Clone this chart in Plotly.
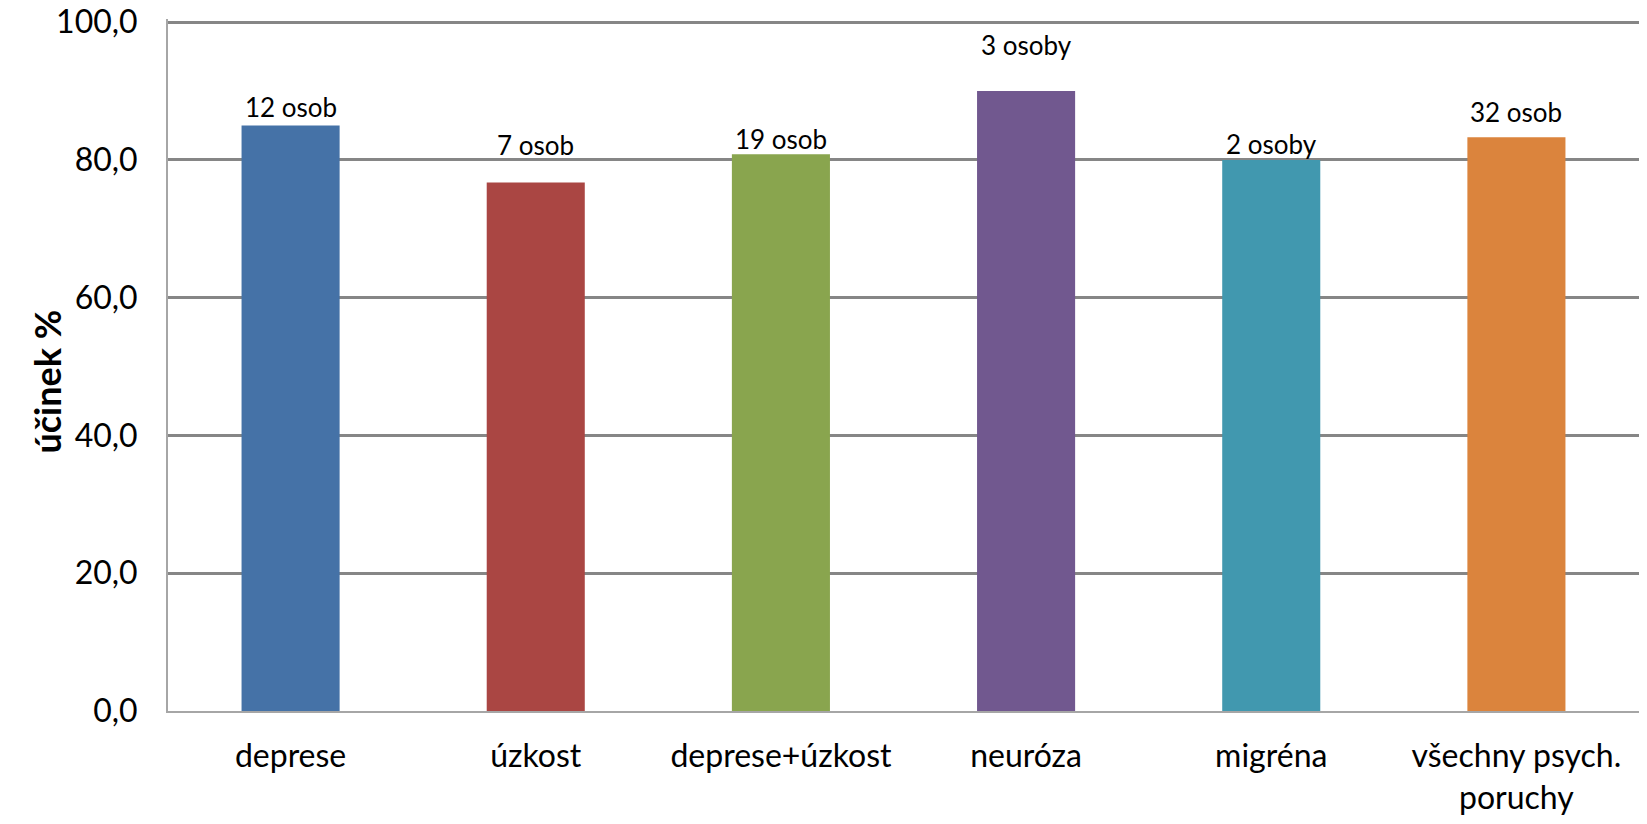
import plotly.graph_objects as go

categories = ["deprese", "úzkost", "deprese+úzkost", "neuróza", "migréna", "všechny psych.<br>poruchy"]
values = [85.0, 76.7, 80.8, 90.0, 80.0, 83.3]
labels = ["12 osob", "7 osob", "19 osob", "3 osoby", "2 osoby", "32 osob"]
colors = ["#4572A7", "#AA4643", "#89A54E", "#71588F", "#4198AF", "#DB843D"]
label_shift = [18, 38, 15, 46, 16, 25]
y_ticks = [0, 20, 40, 60, 80, 100]
y_ticktext = ["0,0", "20,0", "40,0", "60,0", "80,0", "100,0"]

FONT = "Lato"

fig = go.Figure()
fig.add_trace(go.Bar(x=categories, y=values, marker=dict(color=colors, line=dict(width=0)),
                     width=0.4, hoverinfo="skip"))

for c, v, t, s in zip(categories, values, labels, label_shift):
    fig.add_annotation(x=c, y=v, text=t, showarrow=False, yshift=s,
                       font=dict(family=FONT, size=26, color="#000000"),
                       xanchor="center", yanchor="middle")

fig.add_annotation(xref="paper", yref="paper", x=-0.0823, y=0.476, text="<b>účinek %</b>",
                   textangle=-90, showarrow=False, xanchor="center", yanchor="middle",
                   font=dict(family=FONT, size=36, color="#000000"))

fig.update_layout(
    width=1647, height=824,
    margin=dict(l=168, r=8, t=19, b=113),
    paper_bgcolor="white", plot_bgcolor="white",
    showlegend=False,
    font=dict(family=FONT, size=32, color="#000000"),
    bargap=0.6,
)
fig.update_yaxes(range=[0, 100.45], tickvals=y_ticks, ticktext=y_ticktext,
                 showgrid=True, gridcolor="#868686", gridwidth=3,
                 showline=True, linecolor="#A6A6A6", linewidth=2,
                 zeroline=False, ticks="", ticklabelstandoff=22,
                 tickfont=dict(family=FONT, size=32), automargin=False)
fig.update_xaxes(showline=True, linecolor="#A6A6A6", linewidth=2, ticks="",
                 ticklabelstandoff=16, tickfont=dict(family=FONT, size=32), automargin=False)

fig.write_html("out.html", config={"displayModeBar": False},
               post_script="document.body.style.margin='0px';document.body.style.overflow='hidden';")
